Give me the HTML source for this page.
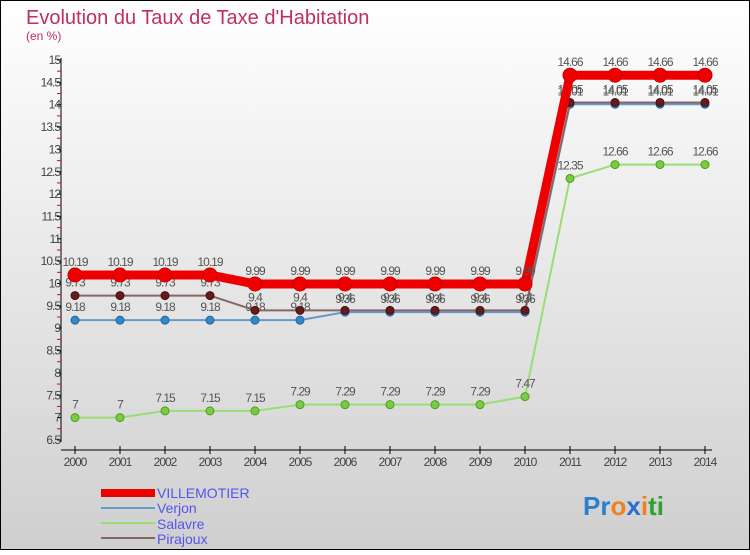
<!DOCTYPE html>
<html><head><meta charset="utf-8"><style>
html,body{margin:0;padding:0}
body{width:750px;height:550px;overflow:hidden;font-family:"Liberation Sans",sans-serif}
</style></head><body>
<svg id="c" width="750" height="550" xmlns="http://www.w3.org/2000/svg">
<defs><linearGradient id="bg" x1="0" y1="0" x2="0" y2="1"><stop offset="0" stop-color="#ffffff"/><stop offset="1" stop-color="#cfcfcf"/></linearGradient></defs>
<rect x="0.5" y="0.5" width="749" height="549" fill="url(#bg)" stroke="#000" stroke-width="1"/>
<text x="26" y="24" font-size="20" fill="#c0305a">Evolution du Taux de Taxe d'Habitation</text>
<text x="26" y="40" font-size="12" fill="#c0305a">(en %)</text>
<g id="axes"></g><g id="series"></g>
<g>
<rect x="101" y="489" width="54" height="8" fill="#ee0000"/>
<text x="157" y="498" font-size="14" fill="#5555ee">VILLEMOTIER</text>
<rect x="101" y="507" width="54" height="2" fill="#6699cc"/>
<text x="157" y="513" font-size="14" fill="#5555ee">Verjon</text>
<rect x="101" y="522" width="54" height="2" fill="#99dd77"/>
<text x="157" y="529" font-size="14" fill="#5555ee">Salavre</text>
<rect x="101" y="537" width="54" height="2" fill="#886666"/>
<text x="157" y="544" font-size="14" fill="#5555ee">Pirajoux</text>
</g>
<text x="583" y="515" font-size="26" font-weight="bold"><tspan fill="#2a7fd0">Pr</tspan><tspan fill="#f08020">o</tspan><tspan fill="#2a6fd0">x</tspan><tspan fill="#f08020">i</tspan><tspan fill="#30a030">ti</tspan></text>
</svg>
<script>
const years=[2000,2001,2002,2003,2004,2005,2006,2007,2008,2009,2010,2011,2012,2013,2014];
const villemotier=[10.19,10.19,10.19,10.19,9.99,9.99,9.99,9.99,9.99,9.99,9.99,14.66,14.66,14.66,14.66];
const verjon=[9.18,9.18,9.18,9.18,9.18,9.18,9.36,9.36,9.36,9.36,9.36,14.01,14.01,14.01,14.01];
const salavre=[7,7,7.15,7.15,7.15,7.29,7.29,7.29,7.29,7.29,7.47,12.35,12.66,12.66,12.66];
const pirajoux=[9.73,9.73,9.73,9.73,9.4,9.4,9.4,9.4,9.4,9.4,9.4,14.05,14.05,14.05,14.05];
const yTicks=[6.5,7,7.5,8,8.5,9,9.5,10,10.5,11,11.5,12,12.5,13,13.5,14,14.5,15];
const NS="http://www.w3.org/2000/svg";
const X=i=>75+i*45;
const Y=v=>60+(15-v)*44.7;
function mk(tag,attrs,parent){const e=document.createElementNS(NS,tag);for(const k in attrs)e.setAttribute(k,attrs[k]);parent.appendChild(e);return e;}
const ax=document.getElementById('axes');
let l=mk('line',{x1:61,y1:58,x2:61,y2:442,stroke:'#000'},ax);


l=mk('line',{x1:61,y1:450,x2:712,y2:450,stroke:'#000'},ax);


yTicks.forEach((v,i)=>{
  mk('line',{x1:57,y1:Y(v),x2:61,y2:Y(v),stroke:'#000'},ax);
  if(i<yTicks.length-1)mk('line',{x1:57,y1:Y(v+0.25),x2:61,y2:Y(v+0.25),stroke:'#e00'},ax);
  const t=mk('text',{x:60,y:Y(v)+4,'font-size':12,'text-anchor':'end',fill:'#444','letter-spacing':'-1'},ax);
  t.textContent=String(v);
  
  
});
years.forEach((yr,i)=>{
  mk('line',{x1:X(i),y1:446,x2:X(i),y2:454,stroke:'#000'},ax);
  const t=mk('text',{x:X(i),y:466,'font-size':12,'text-anchor':'middle',fill:'#444','letter-spacing':'-1'},ax);
  t.textContent=String(yr);
  
  
});
const sg=document.getElementById('series');
function draw(name,vals,color,w,r,dot,dotStroke){
  const g=mk('g',{},sg);
  
  
  const p=mk('polyline',{points:vals.map((v,i)=>X(i)+','+Y(v)).join(' '),fill:'none',stroke:color,'stroke-width':w},g);
  
  
  vals.forEach((v,i)=>{
    const c=mk('circle',{cx:X(i),cy:Y(v),r:r,fill:dot,stroke:dotStroke,'stroke-width':1},g);
    
    
    const t=mk('text',{x:X(i),y:Y(v)-9,'font-size':12,'text-anchor':'middle',fill:'#555','letter-spacing':'-1'},g);
    t.textContent=String(v);
    
    
  });
}
draw('salavre',salavre,'#99dd77',2,4,'#77cc44','#559922');
draw('verjon',verjon,'#6699cc',2,4,'#3388cc','#226699');
draw('pirajoux',pirajoux,'#886666',2,4,'#661a1a','#441111');
draw('villemotier',villemotier,'#ee0000',9,7,'#ee0000','#cc0000');
</script>
</body></html>
